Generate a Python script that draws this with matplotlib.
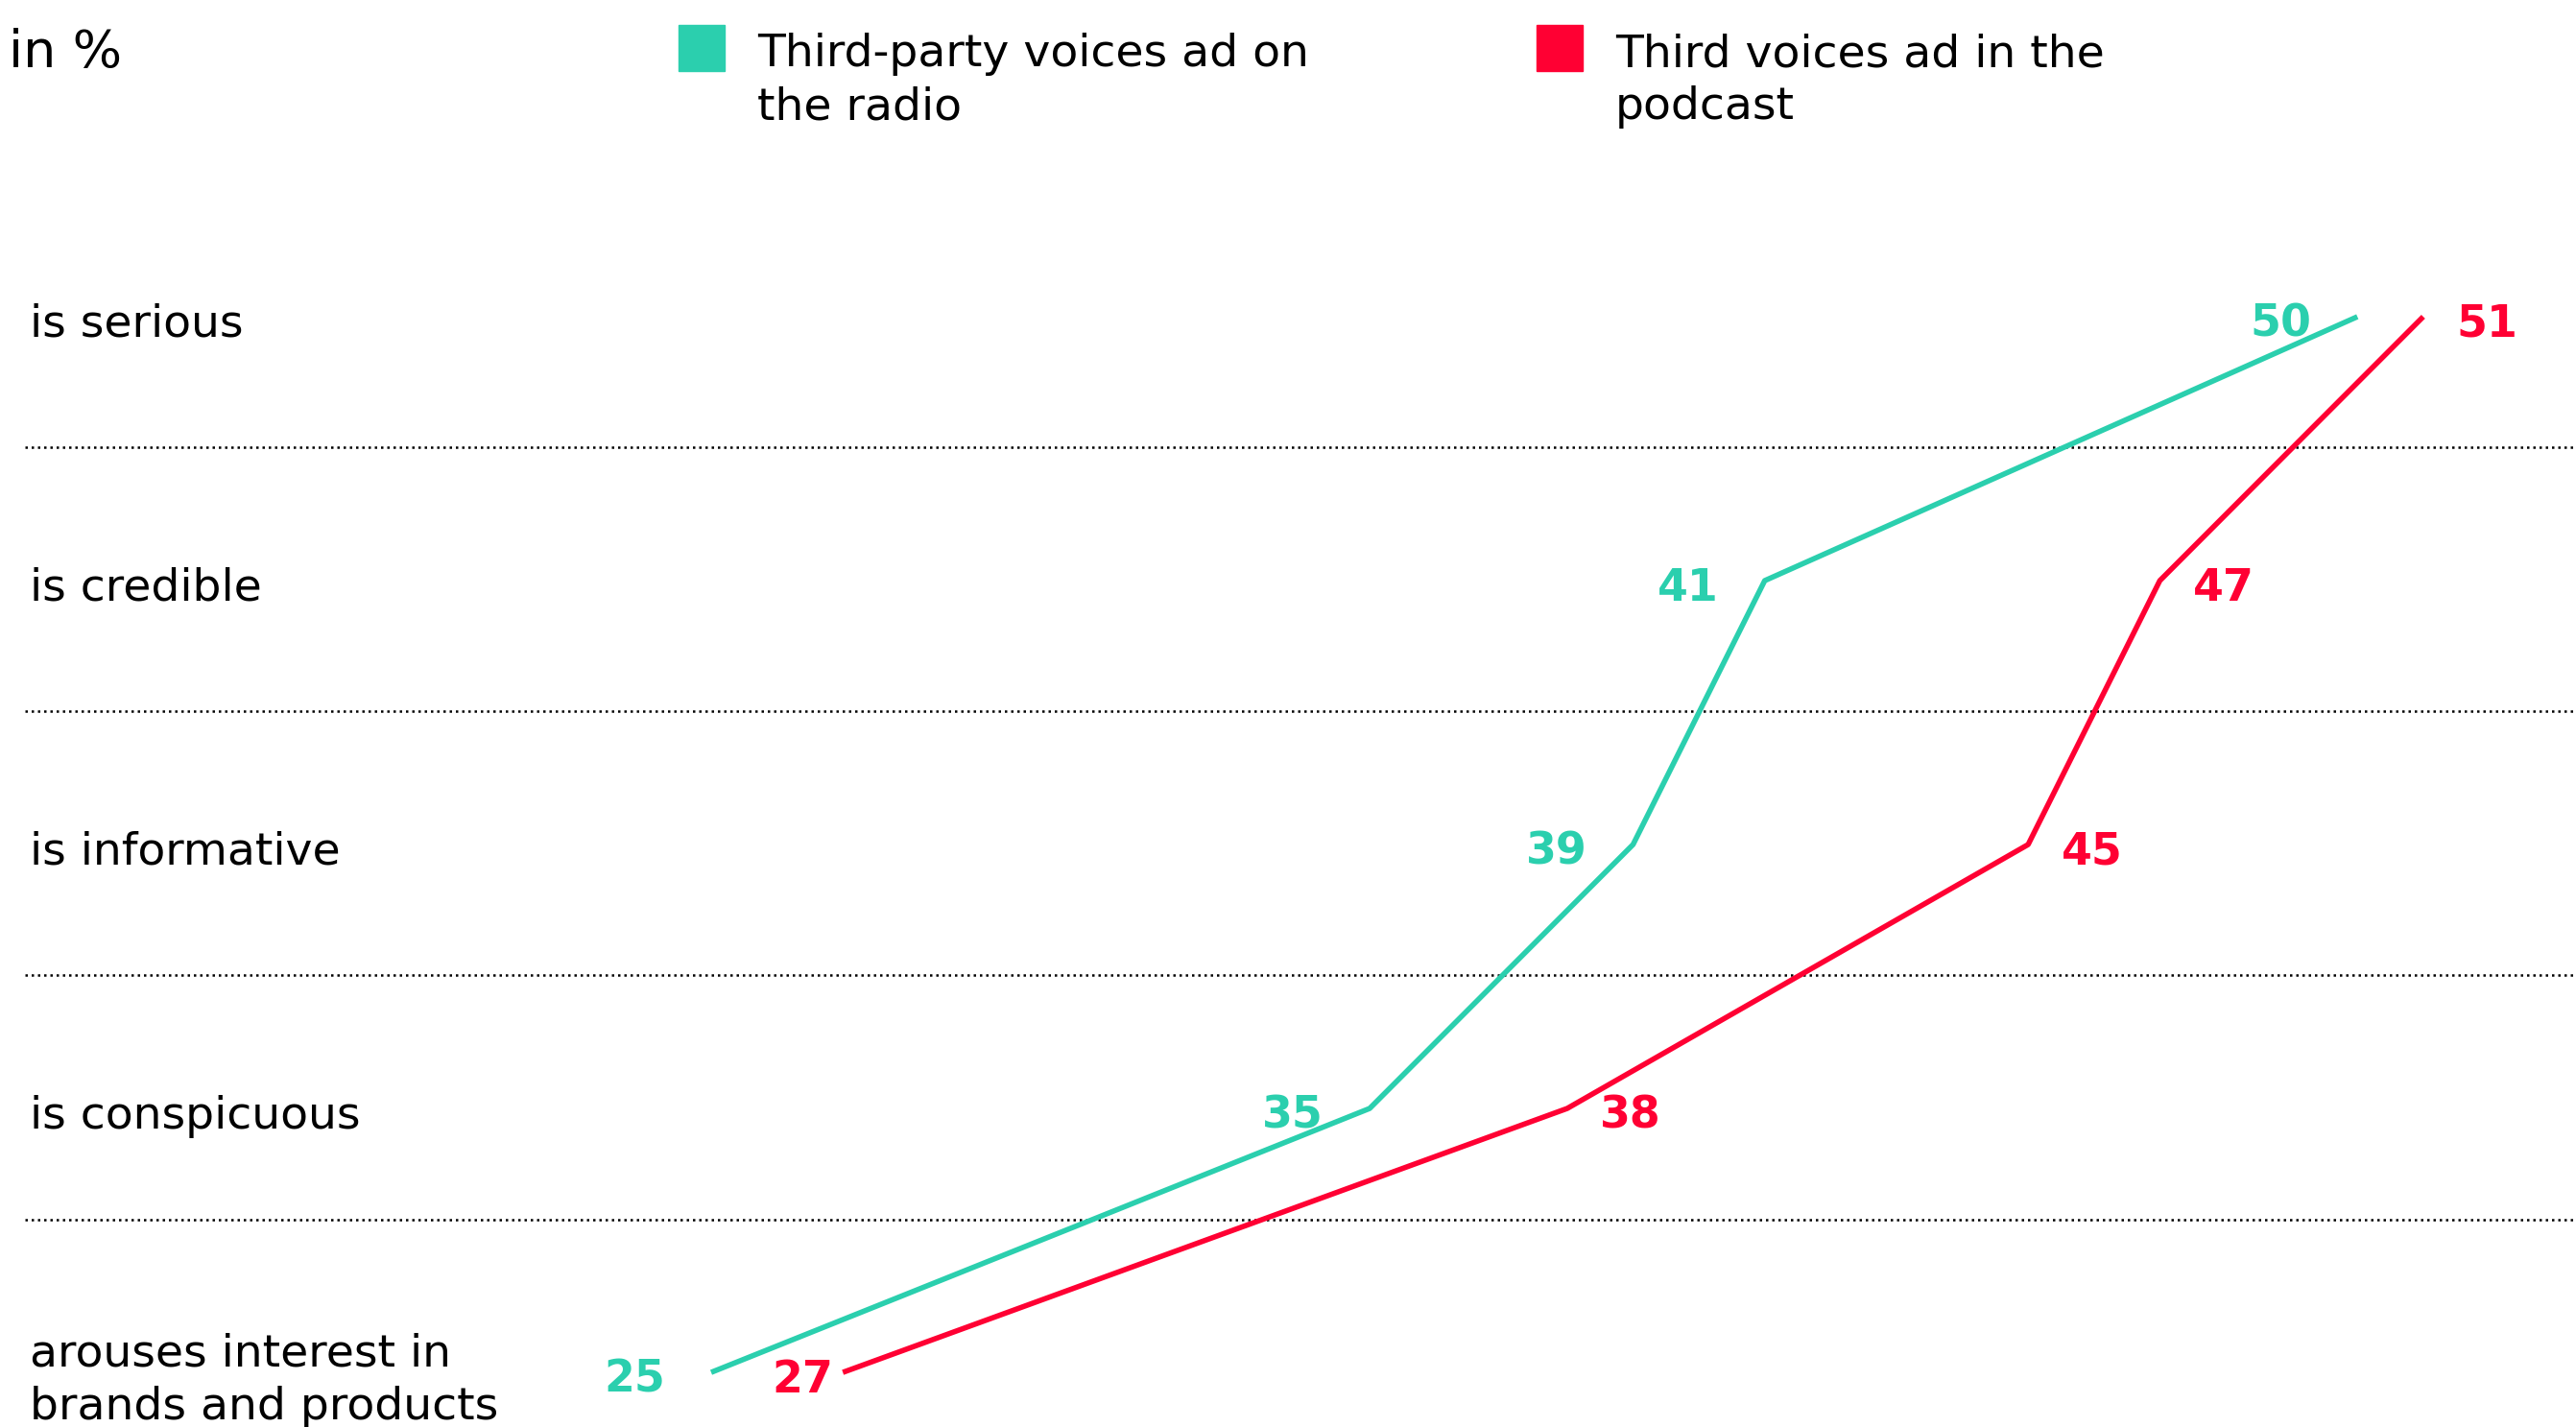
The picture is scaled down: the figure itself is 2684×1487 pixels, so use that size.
import matplotlib.pyplot as plt
from matplotlib.patches import Rectangle
import matplotlib.transforms as mtransforms

plt.rcParams['font.family'] = ['DejaVu Sans']

categories = ["is serious", "is credible", "is informative", "is conspicuous",
              "arouses interest in\nbrands and products"]
radio = [50, 41, 39, 35, 25]
podcast = [51, 47, 45, 38, 27]

teal = "#2BCFAE"
red = "#FF0033"

fig = plt.figure(figsize=(26.84, 14.87), dpi=100)
ax = fig.add_axes([0, 0, 1, 1])
ax.set_xlim(14.2, 53.32)
ax.set_ylim(4.207, -1.2)
ax.axis("off")

rows = list(range(len(categories)))
dy = 0.03  # labels sit a touch below the row line

# dotted separators
for y in [0.495, 1.495, 2.495, 3.42]:
    ax.axhline(y, xmin=26 / 2684, xmax=1, color="black", lw=1.8,
               linestyle=(0, (1, 1.6)))

ax.plot(radio, rows, color=teal, lw=4, solid_capstyle="butt")
ax.plot(podcast, rows, color=red, lw=4, solid_capstyle="butt")

# value labels
for i, v in enumerate(radio):
    ax.text(v - 0.7, i + dy, str(v), color=teal, fontsize=33, fontweight="bold",
            ha="right", va="center")
for i, v in enumerate(podcast):
    if i == len(podcast) - 1:
        ax.text(v - 0.15, i + dy, str(v), color=red, fontsize=33,
                fontweight="bold", ha="right", va="center")
    else:
        ax.text(v + 0.5, i + dy, str(v), color=red, fontsize=33,
                fontweight="bold", ha="left", va="center")

# category labels
trans = mtransforms.blended_transform_factory(ax.transAxes, ax.transData)
for i, c in enumerate(categories):
    ax.text(31 / 2684, i + dy, c, transform=trans, fontsize=34, ha="left",
            va="center", linespacing=1.3)

# subtitle and legend
fig.text(9 / 2684, 1 - 55 / 1487, "in %", fontsize=39, ha="left", va="center")

fig.patches.append(Rectangle((707 / 2684, 1 - 74 / 1487), 48 / 2684, 48 / 1487,
                             transform=fig.transFigure, color=teal))
fig.text(789 / 2684, 1 - 34 / 1487, "Third-party voices ad on\nthe radio",
         fontsize=34, ha="left", va="top", linespacing=1.3)

fig.patches.append(Rectangle((1601 / 2684, 1 - 74 / 1487), 48 / 2684, 48 / 1487,
                             transform=fig.transFigure, color=red))
fig.text(1683 / 2684, 1 - 34 / 1487, "Third voices ad in the\npodcast",
         fontsize=34, ha="left", va="top", linespacing=1.3)

fig.savefig("out.png", dpi=100)
